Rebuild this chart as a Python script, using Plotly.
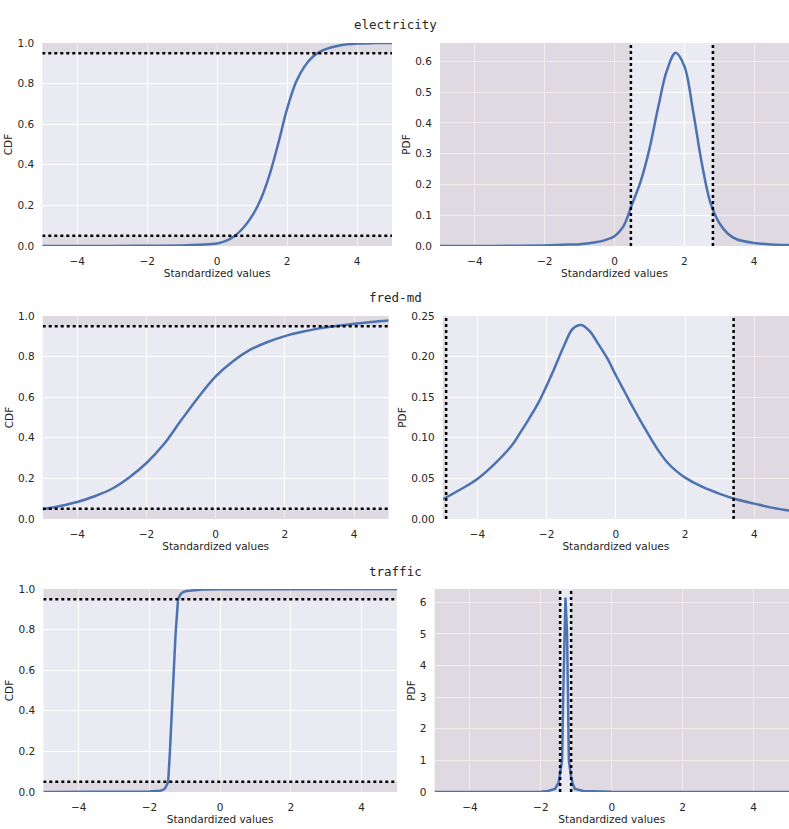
import plotly.graph_objects as go

# values (standardized x, CDF / PDF y)
datasets = ["electricity", "fred-md", "traffic"]

elec_cdf_x = [-5, -3, -2, -1, -0.5, 0, 0.25, 0.5, 0.75, 1.0, 1.25, 1.5, 1.75, 2.0, 2.25, 2.5, 2.75, 3.0, 3.25, 3.5, 4, 4.5, 5]
elec_cdf_y = [0, 0.0003, 0.001, 0.003, 0.006, 0.012, 0.025, 0.049, 0.09, 0.148, 0.232, 0.352, 0.507, 0.675, 0.805, 0.885, 0.935, 0.962, 0.978, 0.988, 0.997, 0.9995, 1.0]
elec_pdf_x = [-5, -4, -3, -2, -1.5, -1, -0.5, -0.25, 0, 0.25, 0.5, 0.75, 1.0, 1.25, 1.5, 1.75, 2.0, 2.25, 2.5, 2.75, 3.0, 3.25, 3.5, 4, 4.5, 5]
elec_pdf_y = [0, 0.0002, 0.0006, 0.002, 0.004, 0.006, 0.013, 0.02, 0.032, 0.063, 0.135, 0.21, 0.315, 0.45, 0.57, 0.628, 0.585, 0.44, 0.27, 0.14, 0.075, 0.04, 0.022, 0.01, 0.005, 0.003]

fred_cdf_x = [-5, -4.5, -4, -3.5, -3, -2.5, -2, -1.5, -1, -0.5, 0, 0.5, 1, 1.5, 2, 2.5, 3, 3.5, 4, 4.5, 5]
fred_cdf_y = [0.048, 0.064, 0.084, 0.112, 0.149, 0.205, 0.276, 0.368, 0.486, 0.600, 0.702, 0.777, 0.834, 0.872, 0.901, 0.922, 0.939, 0.951, 0.962, 0.971, 0.978]
fred_pdf_x = [-5, -4.5, -4, -3.5, -3, -2.75, -2.5, -2.25, -2, -1.75, -1.5, -1.25, -1, -0.75, -0.5, -0.25, 0, 0.25, 0.5, 0.75, 1, 1.25, 1.5, 1.75, 2, 2.5, 3, 3.5, 4, 4.5, 5]
fred_pdf_y = [0.0243, 0.036, 0.0493, 0.068, 0.0909, 0.107, 0.124, 0.142, 0.164, 0.188, 0.213, 0.234, 0.239, 0.231, 0.215, 0.198, 0.177, 0.157, 0.137, 0.118, 0.1, 0.083, 0.069, 0.059, 0.051, 0.0395, 0.031, 0.024, 0.0189, 0.014, 0.0103]

traf_cdf_x = [-5, -3, -2, -1.7, -1.62, -1.55, -1.5, -1.47, -1.42, -1.34, -1.26, -1.19, -1.12, -1.05, -0.95, -0.5, 0, 5]
traf_cdf_y = [0, 0.001, 0.003, 0.006, 0.01, 0.02, 0.035, 0.05, 0.2, 0.5, 0.78, 0.95, 0.975, 0.985, 0.99, 0.997, 0.999, 1.0]
traf_pdf_x = [-5, -2, -1.8, -1.6, -1.5, -1.45, -1.40, -1.37, -1.34, -1.305, -1.26, -1.24, -1.21, -1.15, -1.1, -1.04, -0.8, 0, 5]
traf_pdf_y = [0, 0.005, 0.03, 0.1, 0.3, 0.6, 1.0, 3.0, 5.0, 6.15, 5.0, 3.0, 1.0, 0.5, 0.25, 0.1, 0.03, 0.005, 0]

# 5% / 95% quantiles (vertical lines on the PDF panels)
q_lo = [0.47, -4.9, -1.456]
q_hi = [2.82, 3.40, -1.146]
levels = [0.05, 0.95]

cdfs = [(elec_cdf_x, elec_cdf_y), (fred_cdf_x, fred_cdf_y), (traf_cdf_x, traf_cdf_y)]
pdfs = [(elec_pdf_x, elec_pdf_y), (fred_pdf_x, fred_pdf_y), (traf_pdf_x, traf_pdf_y)]

W, H = 789, 829
BLUE = "#4C72B0"
SHADE = "rgba(150,100,110,0.12)"
FONT = dict(family="DejaVu Sans", size=10.5, color="#262626")
DOT = dict(color="black", width=2.5, dash="dot")

# pixel boxes (left, right) per row and (top, bottom) per row
left_box = [(42.3, 392), (42.7, 388.7), (43.3, 397)]
right_box = [(440, 789), (442.7, 789), (434.5, 789)]
row_y = [(43, 246), (316, 519), (589, 792)]
title_y = [25, 297, 571]
pdf_top = [0.66, 0.25, 6.42]
pdf_dtick = [0.1, 0.05, 1]
pdf_fmt = [".1f", ".2f", "d"]

fig = go.Figure()
layout = dict(width=W, height=H, margin=dict(l=0, r=0, t=0, b=0, pad=0), autosize=False,
              paper_bgcolor="white", plot_bgcolor="#EAEAF2", showlegend=False,
              font=FONT, annotations=[])


def axis_common():
    return dict(showgrid=True, gridcolor="white", gridwidth=1, zeroline=False, showline=False,
                ticks="outside", ticklen=5, tickcolor="rgba(0,0,0,0)", tickfont=FONT,
                automargin=False)


def add(xr, yr, xs, ys, **kw):
    fig.add_trace(go.Scatter(x=xs, y=ys, xaxis=xr, yaxis=yr, hoverinfo="skip", **kw))


for r, name in enumerate(datasets):
    top, bot = row_y[r]
    ydom = [1 - bot / H, 1 - top / H]
    for c in range(2):
        k = r * 2 + c + 1
        xa = "xaxis" if k == 1 else f"xaxis{k}"
        ya = "yaxis" if k == 1 else f"yaxis{k}"
        xr = "x" if k == 1 else f"x{k}"
        yr = "y" if k == 1 else f"y{k}"
        x0, x1 = (left_box if c == 0 else right_box)[r]
        layout[xa] = dict(axis_common(), domain=[x0 / W, x1 / W], range=[-5, 5], anchor=yr,
                          tickvals=[-4, -2, 0, 2, 4],
                          title=dict(text="Standardized values", font=FONT, standoff=3))
        shape = "linear" if r == 2 else "spline"
        if c == 0:
            layout[ya] = dict(axis_common(), domain=ydom, range=[0, 1], anchor=xr, dtick=0.2,
                              tickformat=".1f", title=dict(text="CDF", font=FONT, standoff=2))
            xs, ys = cdfs[r]
            for lo, hi in [(0, levels[0]), (levels[1], 1)]:
                add(xr, yr, [-5, 5, 5, -5], [lo, lo, hi, hi], mode="none", fill="toself",
                    fillcolor=SHADE)
            add(xr, yr, xs, ys, mode="lines", line=dict(color=BLUE, width=2.5, shape=shape))
            for lv in levels:
                add(xr, yr, [-5, 5], [lv, lv], mode="lines", line=DOT)
        else:
            ytop = pdf_top[r]
            layout[ya] = dict(axis_common(), domain=ydom, range=[0, ytop], anchor=xr,
                              dtick=pdf_dtick[r], tickformat=pdf_fmt[r],
                              title=dict(text="PDF", font=FONT, standoff=2))
            xs, ys = pdfs[r]
            for lo, hi in [(-5, q_lo[r]), (q_hi[r], 5)]:
                add(xr, yr, [lo, hi, hi, lo], [0, 0, ytop, ytop], mode="none", fill="toself",
                    fillcolor=SHADE)
            add(xr, yr, xs, ys, mode="lines", line=dict(color=BLUE, width=2.5, shape=shape))
            for q in (q_lo[r], q_hi[r]):
                add(xr, yr, [q, q], [0, ytop], mode="lines", line=DOT)
    layout["annotations"].append(dict(text=name, xref="paper", yref="paper", x=396 / W, y=1 - title_y[r] / H,
                                      showarrow=False, xanchor="center", yanchor="middle",
                                      font=dict(family="DejaVu Sans Mono", size=12.5, color="#262626")))

fig.update_layout(**layout)
fig.write_html("out.html", config={"displayModeBar": False},
               post_script="document.body.style.margin='0';document.body.style.overflow='hidden';")
